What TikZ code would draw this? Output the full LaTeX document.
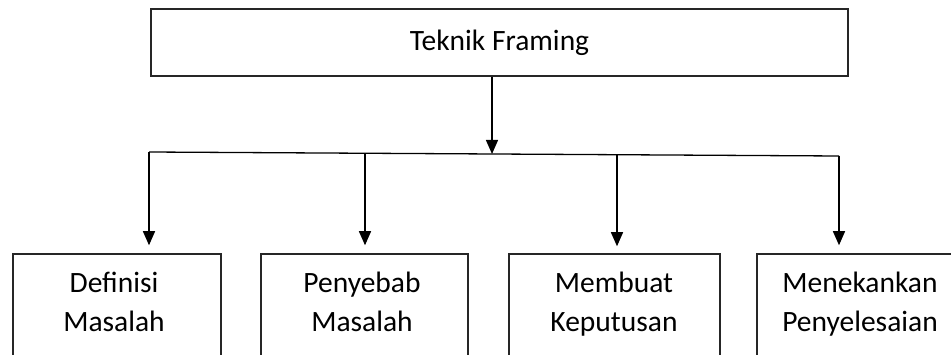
\documentclass[tikz,border=0pt]{standalone}
\usepackage{fontspec}
\setmainfont{Carlito}
\usetikzlibrary{arrows.meta}
\begin{document}
\begin{tikzpicture}[x=1pt,y=-1pt,
  box/.style={draw=black!85, line width=1.5pt, inner sep=0pt},
  txt/.style={font=\fontsize{29.5}{39}\selectfont},
  lbl/.style={txt, align=center, inner sep=0pt, anchor=north},
  conn/.style={line width=1.3pt, draw=black},
  arr/.style={conn, -{Triangle[width=12pt,length=14pt]}}]
\clip (0,0) rectangle (951,355);
% top box
\node[box, txt, minimum width=697pt, minimum height=67pt] (top) at (499.5,42.5) {Teknik Framing};
% bottom boxes (run off the lower edge)
\node[box, minimum width=208pt, minimum height=126pt] (b1) at (117,317) {};
\node[box, minimum width=207pt, minimum height=126pt] (b2) at (364.5,317) {};
\node[box, minimum width=211pt, minimum height=126pt] (b3) at (614.5,317) {};
\node[box, minimum width=208pt, minimum height=126pt] (b4) at (861,317) {};
\node[lbl] (t1) at (114,272) {Definisi\\Masalah};
\node[lbl] (t2) at (362,272) {Penyebab\\Masalah};
\node[lbl] (t3) at (614,272) {Membuat\\Keputusan};
\node[lbl] (t4) at (860,272) {Menekankan\\Penyelesaian};
% horizontal distribution line
\coordinate (hl) at (149,152);
\coordinate (hr) at (839,156);
\coordinate (c0) at (492,154);
\coordinate (c1) at (149,152);
\coordinate (c2) at (365,153.2);
\coordinate (c3) at (617,154.5);
\coordinate (c4) at (839,156);
\draw[conn] (hl) -- (hr);
\draw[arr] (top.south -| c0) -- (c0);
\draw[arr, shorten >=8pt] (c1) -- (c1 |- b1.north);
\draw[arr, shorten >=8pt] (c2) -- (c2 |- b2.north);
\draw[arr, shorten >=7pt] (c3) -- (c3 |- b3.north);
\draw[arr, shorten >=8pt] (c4) -- (c4 |- b4.north);
\end{tikzpicture}
\end{document}
